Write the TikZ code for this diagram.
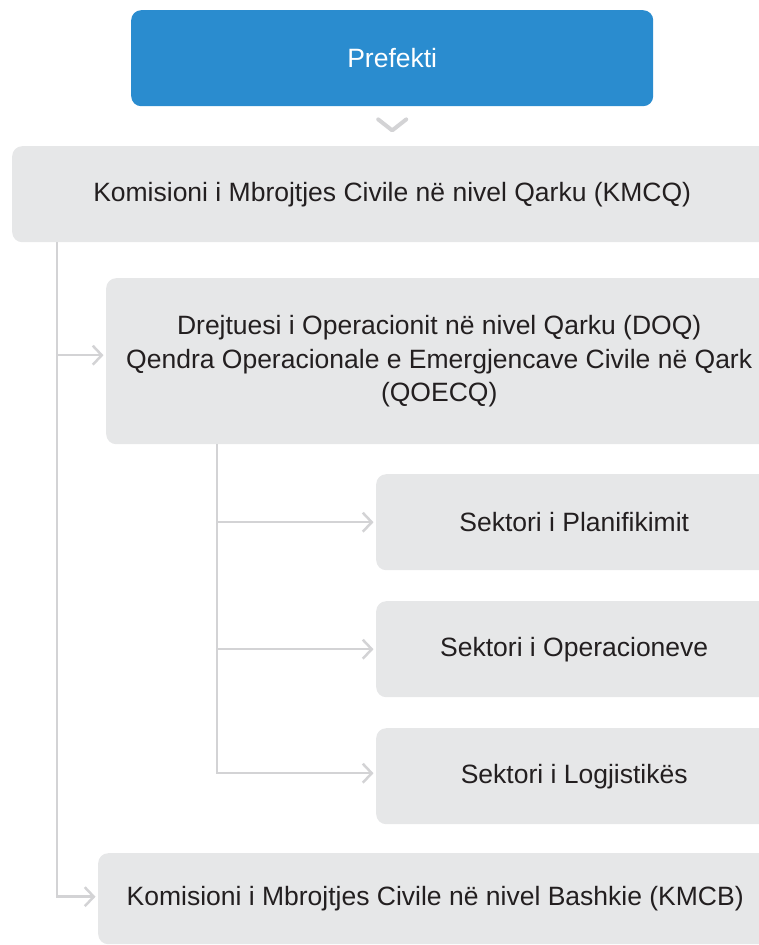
\documentclass[tikz,border=0pt]{standalone}
\usepackage{fontspec}
\setmainfont{Liberation Sans}
\usetikzlibrary{ arrows.meta, % For the open arrow tips
                 calc,        % For points on the connector lines
               }
\definecolor{prefblue}{HTML}{2A8CCF}
\definecolor{boxgray}{HTML}{E6E7E8}
\definecolor{linegray}{HTML}{D3D3D5}
\definecolor{textdark}{HTML}{231F20}
\tikzstyle{unit} = [rectangle, rounded corners=10pt, fill=boxgray, text=textdark, inner sep=0pt, align=center, anchor=north west, font=\fontsize{26.5}{33.5}\selectfont]
\tikzstyle{head} = [unit, fill=prefblue, text=white]
\tikzstyle{link} = [draw=linegray, line width=2.5pt, -{Straight Barb[length=9pt,width=19pt]}, shorten >=2.5pt]

\begin{document}
\begin{tikzpicture}[x=1pt, y=-1pt]
  \useasboundingbox (0,0) rectangle (759,945);
  \clip (0,0) rectangle (759,945);

  \node (prefekti) [head, minimum width=522pt, minimum height=96pt] at (131,10) {Prefekti};
  \node (kmcq) [unit, minimum width=760pt, minimum height=96pt] at (12,146) {Komisioni i Mbrojtjes Civile në nivel Qarku (KMCQ)};
  \draw [linegray, line width=4pt, line cap=round, line join=round]
    ($(prefekti.south)+(-14,13)$) -- ++(14,11) -- ++(14,-11);

  \node (doq) [unit, minimum width=666pt, minimum height=166pt] at (106,278) {Drejtuesi i Operacionit në nivel Qarku (DOQ)\\Qendra Operacionale e Emergjencave Civile në Qark\\(QOECQ)};
  \node (sp) [unit, minimum width=396pt, minimum height=96pt] at (376,474) {Sektori i Planifikimit};
  \node (so) [unit, minimum width=396pt, minimum height=96pt] at (376,601) {Sektori i Operacioneve};
  \node (sl) [unit, minimum width=396pt, minimum height=96pt] at (376,728) {Sektori i Logjistikës};
  \node (kmcb) [unit, minimum width=674pt, minimum height=91pt] at (98,853) {Komisioni i Mbrojtjes Civile në nivel Bashkie (KMCB)};

  \coordinate (t1) at ($(kmcq.south west)+(45,0)$);
  \path [link] (t1) |- ($(doq.west)+(0,-6)$);
  \path [link] (t1) |- ($(kmcb.west)+(0,-2)$);

  \coordinate (t2) at ($(doq.south west)+(111,0)$);
  \path [link] (t2) |- (sp.west);
  \path [link] (t2) |- (so.west);
  \path [link] (t2) |- ($(sl.west)+(0,-3)$);
\end{tikzpicture}
\end{document}
